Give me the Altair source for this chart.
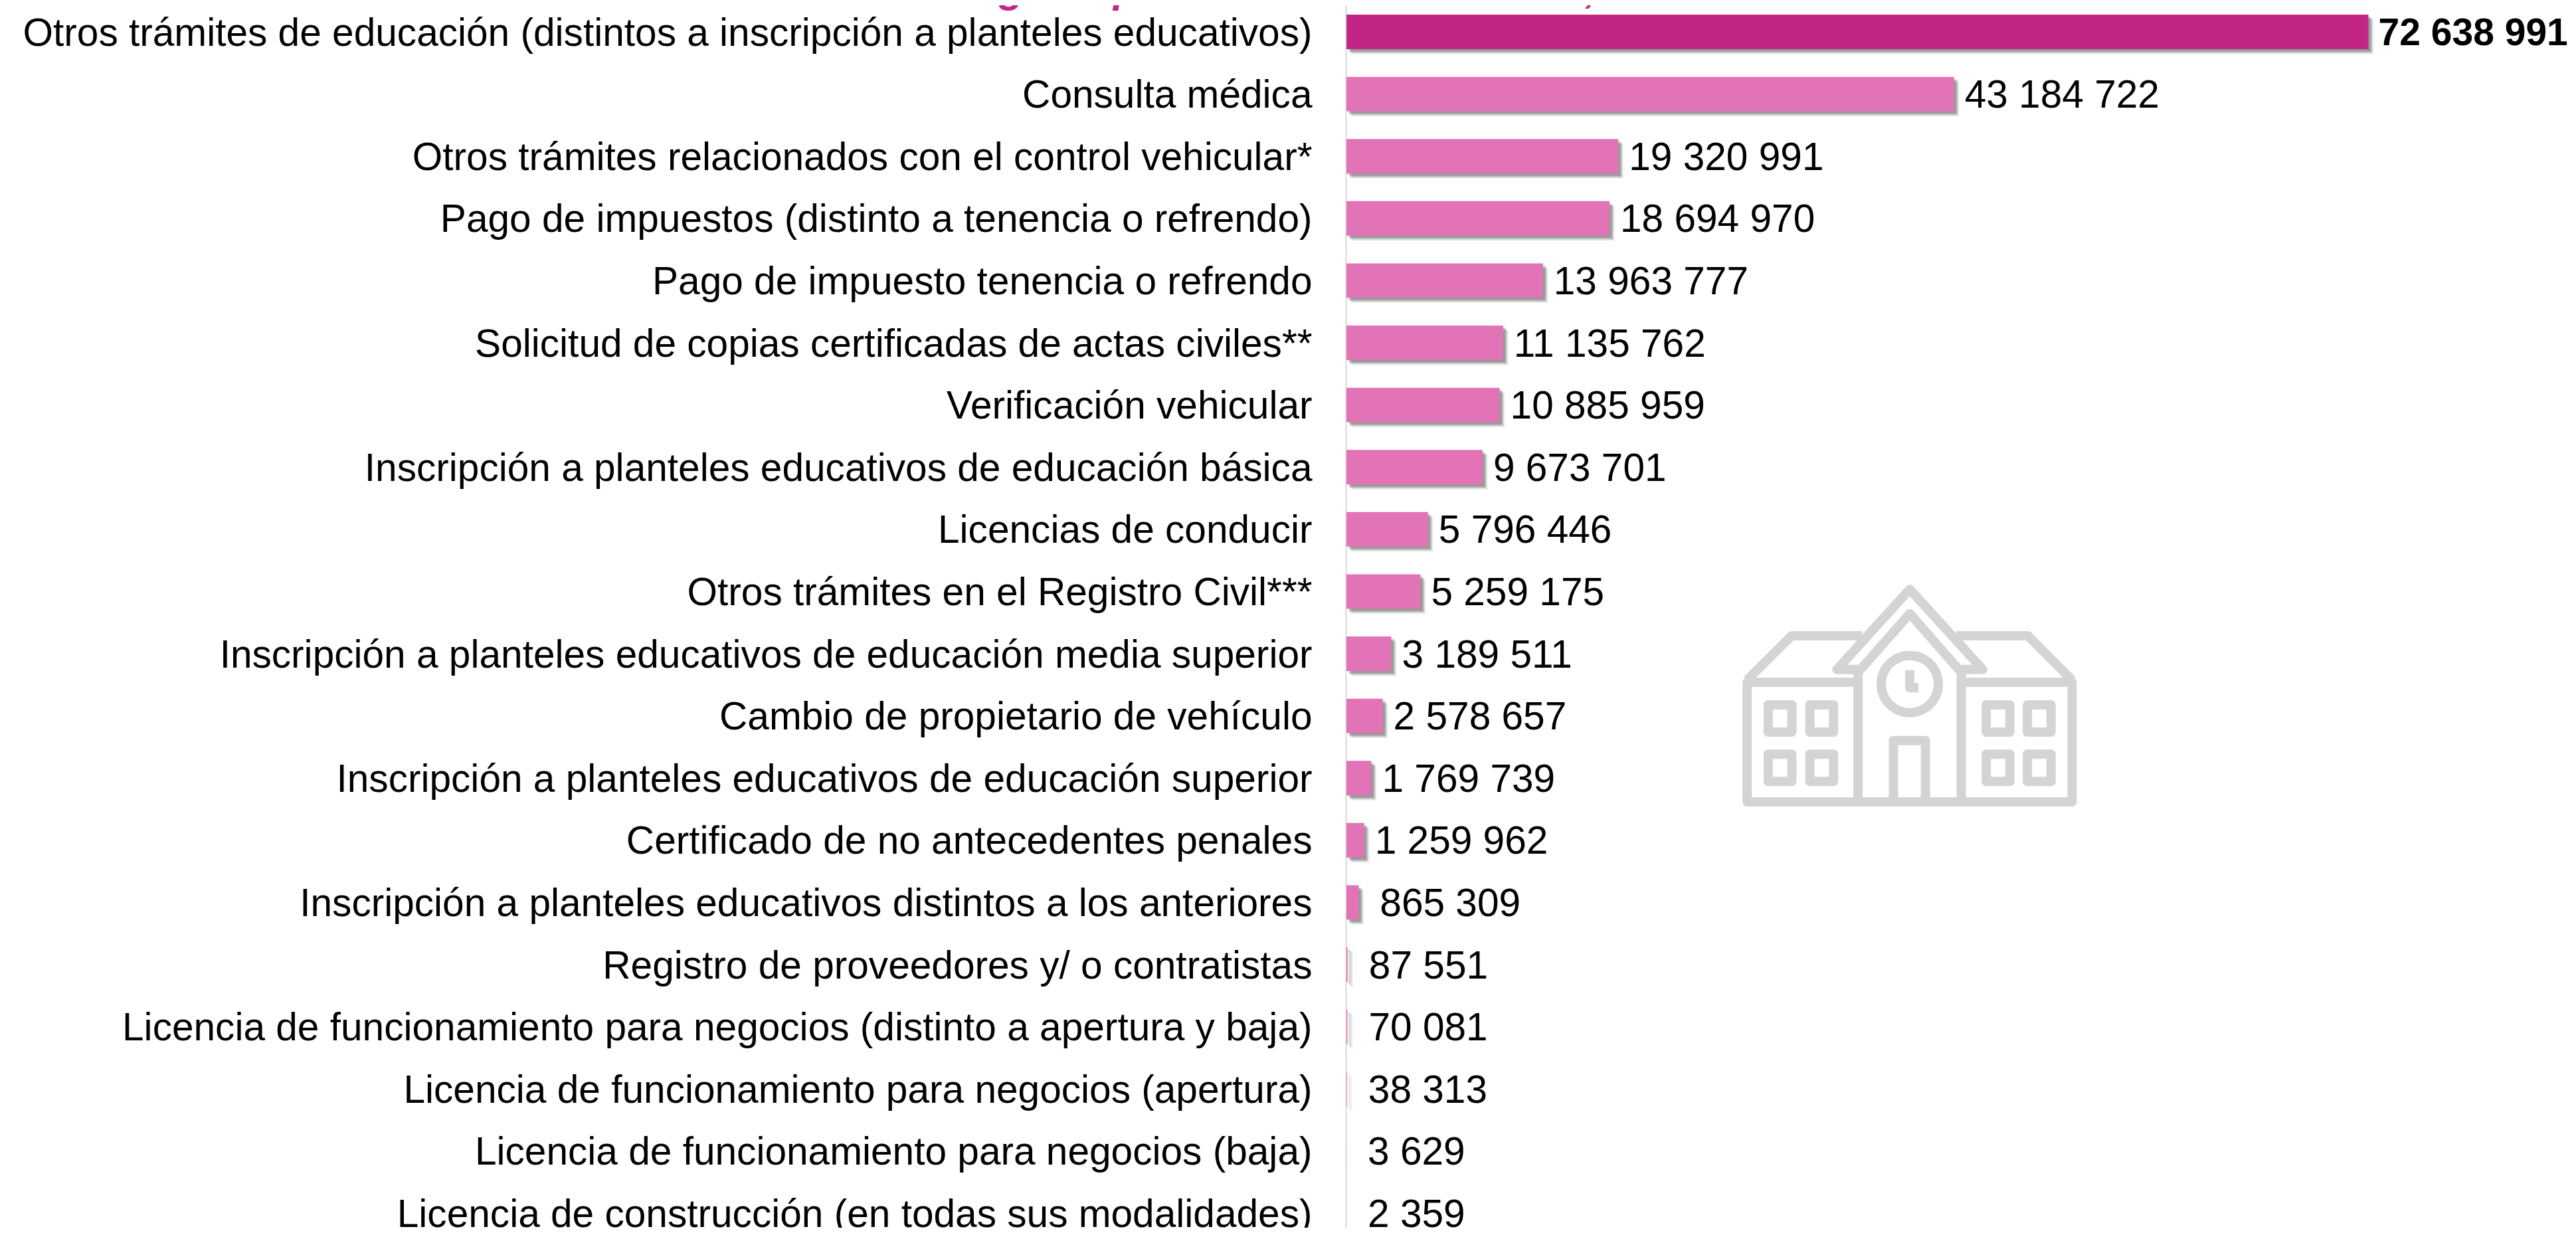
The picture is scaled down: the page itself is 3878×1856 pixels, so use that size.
import altair as alt
import pandas as pd

CATEGORIAS = [
    "Otros trámites de educación (distintos a inscripción a planteles educativos)",
    "Consulta médica",
    "Otros trámites relacionados con el control vehicular*",
    "Pago de impuestos (distinto a tenencia o refrendo)",
    "Pago de impuesto tenencia o refrendo",
    "Solicitud de copias certificadas de actas civiles**",
    "Verificación vehicular",
    "Inscripción a planteles educativos de educación básica",
    "Licencias de conducir",
    "Otros trámites en el Registro Civil***",
    "Inscripción a planteles educativos de educación media superior",
    "Cambio de propietario de vehículo",
    "Inscripción a planteles educativos de educación superior",
    "Certificado de no antecedentes penales",
    "Inscripción a planteles educativos distintos a los anteriores",
    "Registro de proveedores y/ o contratistas",
    "Licencia de funcionamiento para negocios (distinto a apertura y baja)",
    "Licencia de funcionamiento para negocios (apertura)",
    "Licencia de funcionamiento para negocios (baja)",
    "Licencia de construcción (en todas sus modalidades)",
]
VALORES = [72638991, 43184722, 19320991, 18694970, 13963777, 11135762, 10885959,
           9673701, 5796446, 5259175, 3189511, 2578657, 1769739, 1259962, 865309,
           87551, 70081, 38313, 3629, 2359]
TITULO = "según tipo de trámite o servicio, 2022"
FONT = "Liberation Sans"
OSCURO, CLARO = "#C12686", "#E173B6"

df = pd.DataFrame({"cat": CATEGORIAS, "valor": VALORES})
df["grupo"] = ["alto"] + ["resto"] * (len(df) - 1)
df["etq"] = [f"{v:,}".replace(",", " ") for v in VALORES]

PAD_L = 2019
PLOT_W, PLOT_H = 3862 - PAD_L, 1840
STEP = 93.6
TOP = 40 - STEP / 2
DY = 2.5

x = alt.X("valor:Q", axis=None, scale=alt.Scale(domain=[0, 72638991], range=[0, 1538.5], nice=False, zero=True))
y = alt.Y("cat:N", sort=CATEGORIAS, title=None,
          scale=alt.Scale(domain=CATEGORIAS, range=[TOP, TOP + STEP * 20], paddingInner=0.446, paddingOuter=0.223),
          axis=alt.Axis(orient="left", ticks=False, grid=False, domainColor="#D9D9D9", domainWidth=2, offset=1,
                        labelFont=FONT, labelFontSize=58.6, labelColor="#000000", labelPadding=51, labelOffset=DY,
                        labelLimit=3000, labelOverlap=False, labelAlign="right", labelBaseline="middle"))

base = alt.Chart(df)
sombras = [
    base.mark_bar(color="#000000", opacity=op, xOffset=d, yOffset=d, orient="horizontal").encode(x=x, y=y)
    for d, op in [(8, 0.04), (7, 0.06), (6, 0.08), (5, 0.09), (4, 0.10), (3, 0.10)]
]
barras = base.mark_bar(orient="horizontal").encode(
    x=x, y=y,
    color=alt.Color("grupo:N", legend=None, scale=alt.Scale(domain=["alto", "resto"], range=[OSCURO, CLARO])),
)
etq_kw = dict(font=FONT, color="#000000", align="left", baseline="middle", dy=DY)
etq = base.transform_filter("datum.grupo == 'resto' && datum.valor >= 1000000").mark_text(dx=16, fontSize=58.6, **etq_kw).encode(x=x, y=y, text="etq:N")
etq_peq = base.transform_filter("datum.valor < 1000000").mark_text(dx=32, fontSize=58.6, **etq_kw).encode(x=x, y=y, text="etq:N")
etq_b = base.transform_filter("datum.grupo == 'alto'").mark_text(dx=15, fontSize=57, fontWeight="bold", **etq_kw).encode(x=x, y=y, text="etq:N")

titulo = alt.Chart(pd.DataFrame({"t": [TITULO]})).mark_text(
    font=FONT, fontSize=63.3, fontWeight="bold", fontStyle="italic", color=OSCURO, align="center", baseline="alphabetic"
).encode(x=alt.value(1998 - 2027), y=alt.value(-5), text="t:N")


def pt(zx, zy):
    return f"{(zx - 822) / 2.529:.1f} {(zy - 620) / 3:.1f}"


def linea(pts, cerrar=False):
    return "M" + " L".join(pt(*p) for p in pts) + (" Z" if cerrar else "")


partes = [
    linea([(625, 560), (203, 560), (203, 1100), (1440, 1100), (1440, 560), (1018, 560)]),
    linea([(625, 510), (625, 1100)]),
    linea([(1018, 510), (1018, 1100)]),
    linea([(625, 515), (822, 250), (1018, 515)]),
    linea([(625, 502), (545, 502), (822, 140), (1100, 502), (1018, 502)]),
    linea([(203, 550), (372, 350), (640, 350)]),
    linea([(1440, 550), (1272, 350), (1000, 350)]),
    linea([(822, 505), (822, 585), (855, 585)]),
    linea([(760, 1100), (760, 823), (882, 823), (882, 1100)]),
]
for xa, xb in [(283, 373), (442, 532), (1113, 1203), (1270, 1360)]:
    for ya, yb in [(662, 785), (885, 1008)]:
        partes.append(linea([(xa, ya), (xb, ya), (xb, yb), (xa, yb)], True))
cy = (568 - 620) / 3
partes.append(f"M-43 {cy:.1f} A43 43 0 1 0 43 {cy:.1f} A43 43 0 1 0 -43 {cy:.1f} Z")
ICONO = " ".join(partes)

icono = alt.Chart(pd.DataFrame({"i": [1]})).mark_point(
    shape=ICONO, size=4, filled=False, stroke="#D4D4D4", strokeWidth=14, strokeJoin="round", opacity=1
).encode(x=alt.value(2875 - 2027), y=alt.value(1047 - 8))

chart = alt.layer(*sombras, barras, etq, etq_peq, etq_b, icono, titulo).properties(
    width=PLOT_W, height=PLOT_H,
    autosize=alt.AutoSizeParams(type="none"),
    padding={"left": PAD_L, "top": 0, "right": 0, "bottom": 0},
).configure_view(stroke=None)

chart.save("out.html", embed_options={"renderer": "svg", "actions": False})
